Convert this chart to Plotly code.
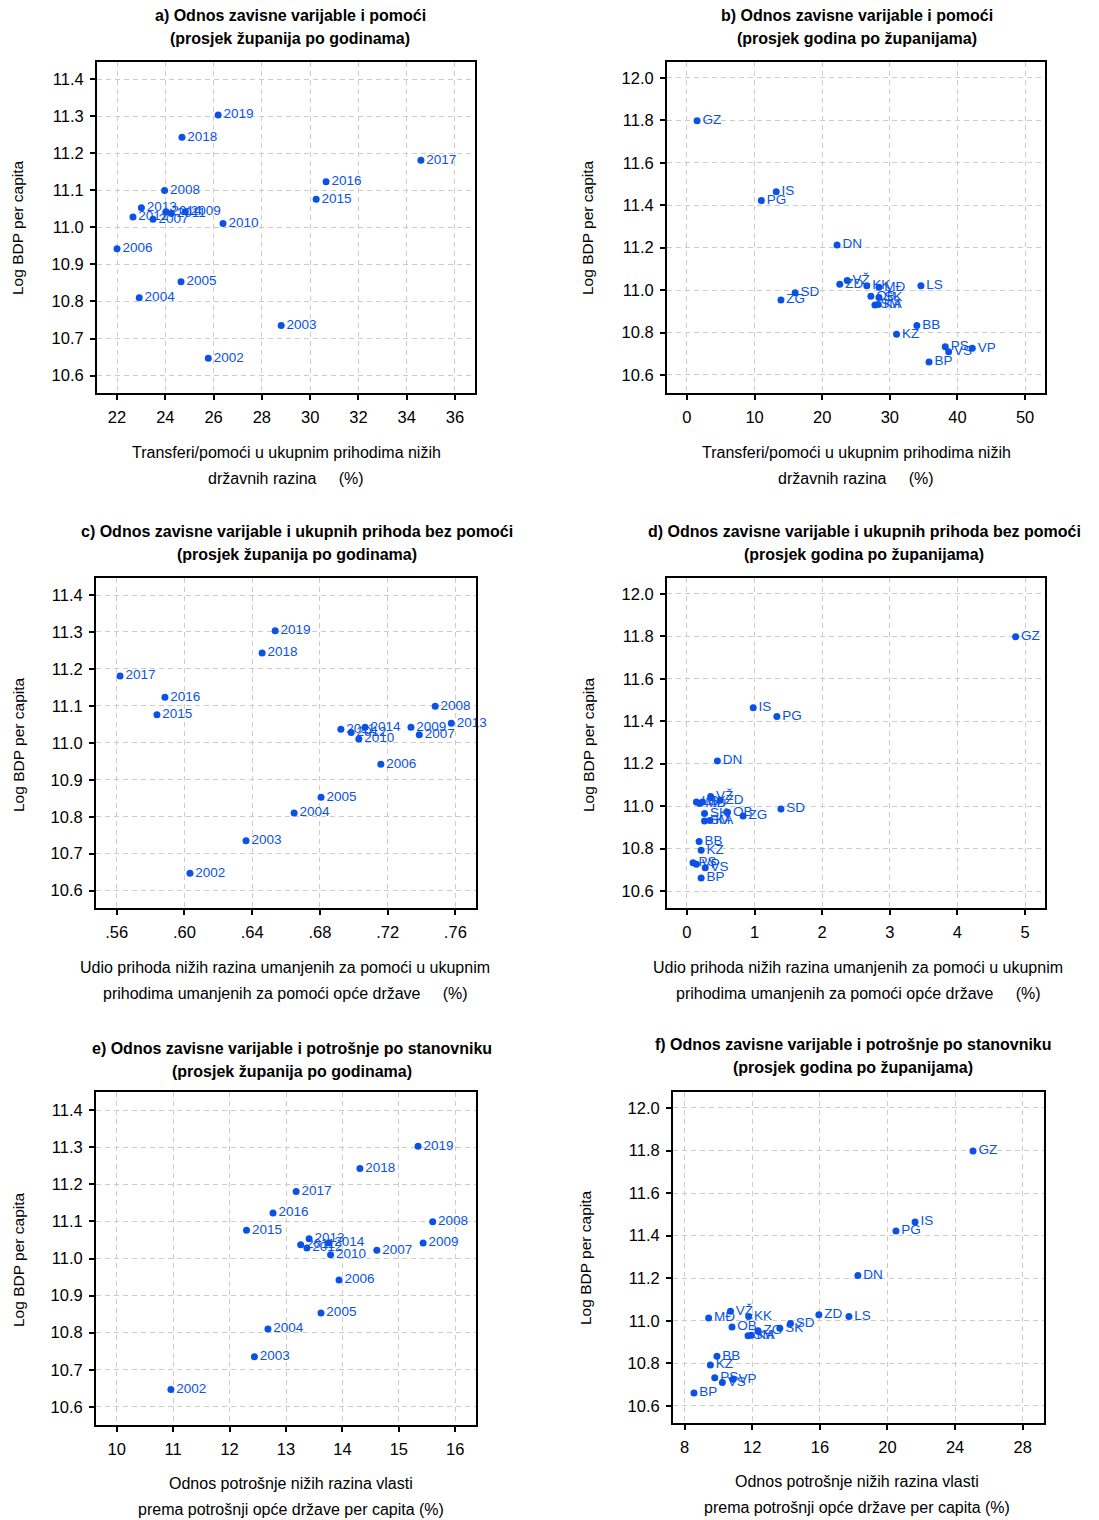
import plotly.graph_objects as go

# ---- podaci: prosjek županija po godinama ----
godine = [str(g) for g in range(2002, 2020)]
log_bdp_god = [10.647, 10.735, 10.810, 10.853, 10.942, 11.022, 11.099, 11.042, 11.010,
               11.037, 11.028, 11.053, 11.042, 11.076, 11.123, 11.181, 11.243, 11.303]
pomoci_god = [25.78, 28.80, 22.92, 24.65, 22.00, 23.49, 23.97, 24.83, 26.39,
              24.25, 22.66, 23.01, 24.03, 30.25, 30.66, 34.59, 24.69, 26.19]
prihodi_god = [.6033, .6364, .6648, .6807, .7160, .7387, .7481, .7338, .7030,
               .6924, .6985, .7576, .7067, .5838, .5885, .5620, .6459, .6536]
potrosnja_god = [10.96, 12.44, 12.68, 13.62, 13.94, 14.61, 15.60, 15.43, 13.79,
                 13.26, 13.37, 13.41, 13.76, 12.30, 12.77, 13.18, 14.31, 15.34]

# ---- podaci: prosjek godina po županijama ----
zupanije = ["GZ", "IS", "PG", "DN", "VŽ", "ZD", "KK", "MĐ", "LS", "SD", "ZG",
            "OB", "ŠK", "SM", "KA", "BB", "KZ", "PS", "VS", "VP", "BP"]
log_bdp_zup = [11.798, 11.464, 11.422, 11.213, 11.045, 11.028, 11.020, 11.013, 11.020,
               10.987, 10.953, 10.971, 10.965, 10.930, 10.932, 10.833, 10.792, 10.733,
               10.710, 10.726, 10.661]
pomoci_zup = [1.5, 13.2, 11.0, 22.2, 23.7, 22.6, 26.6, 28.4, 34.6, 16.0, 13.9,
              27.2, 28.4, 27.8, 28.3, 34.0, 31.0, 38.2, 38.7, 42.2, 35.8]
prihodi_zup = [4.86, 0.98, 1.33, 0.45, 0.35, 0.49, 0.23, 0.19, 0.14, 1.39, 0.83,
               0.60, 0.26, 0.26, 0.34, 0.18, 0.21, 0.09, 0.27, 0.14, 0.21]
potrosnja_zup = [25.06, 21.63, 20.50, 18.25, 10.71, 15.94, 11.79, 9.42, 17.72, 14.26, 12.34,
                 10.80, 13.63, 11.75, 11.95, 9.91, 9.52, 9.78, 10.23, 10.86, 8.55]

# ---- oznake osi ----
y_god_ticks = [10.6, 10.7, 10.8, 10.9, 11.0, 11.1, 11.2, 11.3, 11.4]
y_zup_ticks = [10.6, 10.8, 11.0, 11.2, 11.4, 11.6, 11.8, 12.0]
xa_ticks = [22, 24, 26, 28, 30, 32, 34, 36]
xb_ticks = [0, 10, 20, 30, 40, 50]
xc_ticks = [.56, .60, .64, .68, .72, .76]
xc_text = [".56", ".60", ".64", ".68", ".72", ".76"]
xd_ticks = [0, 1, 2, 3, 4, 5]
xe_ticks = [10, 11, 12, 13, 14, 15, 16]
xf_ticks = [8, 12, 16, 20, 24, 28]

naslovi = [
    ("a) Odnos zavisne varijable i pomoći", "(prosjek županija po godinama)"),
    ("b) Odnos zavisne varijable i pomoći", "(prosjek godina po županijama)"),
    ("c) Odnos zavisne varijable i ukupnih prihoda bez pomoći", "(prosjek županija po godinama)"),
    ("d) Odnos zavisne varijable i ukupnih prihoda bez pomoći", "(prosjek godina po županijama)"),
    ("e) Odnos zavisne varijable i potrošnje po stanovniku", "(prosjek županija po godinama)"),
    ("f) Odnos zavisne varijable i potrošnje po stanovniku", "(prosjek godina po županijama)"),
]
nbsp = "\u00a0"
x_naslov_ab = ("Transferi/pomoći u ukupnim prihodima nižih",
               "državnih razina" + nbsp * 5 + "(%)")
x_naslov_cd = ("Udio prihoda nižih razina umanjenih za pomoći u ukupnim",
               "prihodima umanjenih za pomoći opće države" + nbsp * 5 + "(%)")
x_naslov_ef = ("Odnos potrošnje nižih razina vlasti",
               "prema potrošnji opće države per capita (%)")
y_naslov = "Log BDP per capita"

# stranica ima 8 px margine, pa se koordinate iz referentne slike pomiču za 8 px
OFF = 8
W, H = 1091, 1512
PLAVA = "#0a52e6"
FONT = "Liberation Sans, Arial, sans-serif"


def px(x):
    return (x - OFF) / W


def py(y):
    return 1 - (y - OFF) / H


# okviri panela u pikselima (lijevo, desno, gore, dolje)
okviri = [(97, 475, 62, 393), (667, 1045, 62, 393),
          (96, 476, 578, 908), (667, 1045, 578, 908),
          (96, 476, 1092, 1425), (673, 1044, 1092, 1423)]
# (x središta naslova, y 1. reda), (x središta naslova osi, y 1. reda), (x, y naslova y osi)
pozicije = [((290, 15), (286, 452), (18, 228)),
            ((857, 15), (856, 452), (588, 228)),
            ((297, 531), (285, 967), (18, 745)),
            ((864, 531), (858, 967), (588, 745)),
            ((292, 1048), (291, 1483), (18, 1260)),
            ((853, 1044), (857, 1481), (585, 1258))]

paneli = [
    (pomoci_god, log_bdp_god, godine, xa_ticks, None, [21.17, 36.83], y_god_ticks, [10.553, 11.446], x_naslov_ab),
    (pomoci_zup, log_bdp_zup, zupanije, xb_ticks, None, [-2.95, 52.95], y_zup_ticks, [10.515, 12.075], x_naslov_ab),
    (prihodi_god, log_bdp_god, godine, xc_ticks, xc_text, [.5478, .7722], y_god_ticks, [10.553, 11.446], x_naslov_cd),
    (prihodi_zup, log_bdp_zup, zupanije, xd_ticks, None, [-0.295, 5.295], y_zup_ticks, [10.52, 12.075], x_naslov_cd),
    (potrosnja_god, log_bdp_god, godine, xe_ticks, None, [9.633, 16.367], y_god_ticks, [10.551, 11.449], x_naslov_ef),
    (potrosnja_zup, log_bdp_zup, zupanije, xf_ticks, None, [7.31, 29.26], y_zup_ticks, [10.52, 12.075], x_naslov_ef),
]

fig = go.Figure()
layout = dict(width=W, height=H, margin=dict(l=0, r=0, t=0, b=0),
              paper_bgcolor="white", plot_bgcolor="white", showlegend=False,
              font=dict(family=FONT, color="black"))
annotations = []


def tekst(s, x, y, size, angle=0):
    annotations.append(dict(text=s, x=px(x), y=py(y), xref="paper", yref="paper",
                            showarrow=False, xanchor="center", yanchor="middle",
                            textangle=angle,
                            font=dict(size=size, family=FONT, color="black")))


for i, (xs, ys, labels, xt, xtt, xr, yt, yr, xnaslov) in enumerate(paneli):
    n = "" if i == 0 else str(i + 1)
    l, r, t, b = okviri[i]
    fig.add_trace(go.Scatter(
        x=xs, y=ys, text=labels, mode="markers+text",
        textposition="middle right", cliponaxis=False,
        marker=dict(color=PLAVA, size=7),
        textfont=dict(color=PLAVA, size=13.5, family=FONT),
        xaxis="x" + n, yaxis="y" + n, hoverinfo="skip"))

    common = dict(showline=True, mirror=True, linecolor="black", linewidth=2,
                  ticks="outside", ticklen=5, tickwidth=1.5, tickcolor="black",
                  showgrid=True, gridcolor="#cccccc", gridwidth=1, griddash="5px,4px",
                  zeroline=False, ticklabelstandoff=3,
                  tickfont=dict(size=16.5, family=FONT, color="black"))
    xax = dict(common, domain=[px(l), px(r)], range=xr, tickvals=xt,
               anchor="y" + n)
    if xtt:
        xax["ticktext"] = xtt
    yax = dict(common, domain=[py(b), py(t)], range=yr, tickvals=yt,
               tickformat=".1f", anchor="x" + n)
    layout["xaxis" + n] = xax
    layout["yaxis" + n] = yax

    (tx, ty), (ax, ay), (yx, yy) = pozicije[i]
    tekst("<b>" + naslovi[i][0] + "</b>", tx, ty, 16)
    tekst("<b>" + naslovi[i][1] + "</b>", tx, ty + 23, 16)
    tekst(xnaslov[0], ax, ay, 16)
    tekst(xnaslov[1], ax, ay + 26, 16)
    tekst(y_naslov, yx, yy, 15.5, angle=-90)

layout["annotations"] = annotations
fig.update_layout(**layout)
fig.write_html("out.html")
